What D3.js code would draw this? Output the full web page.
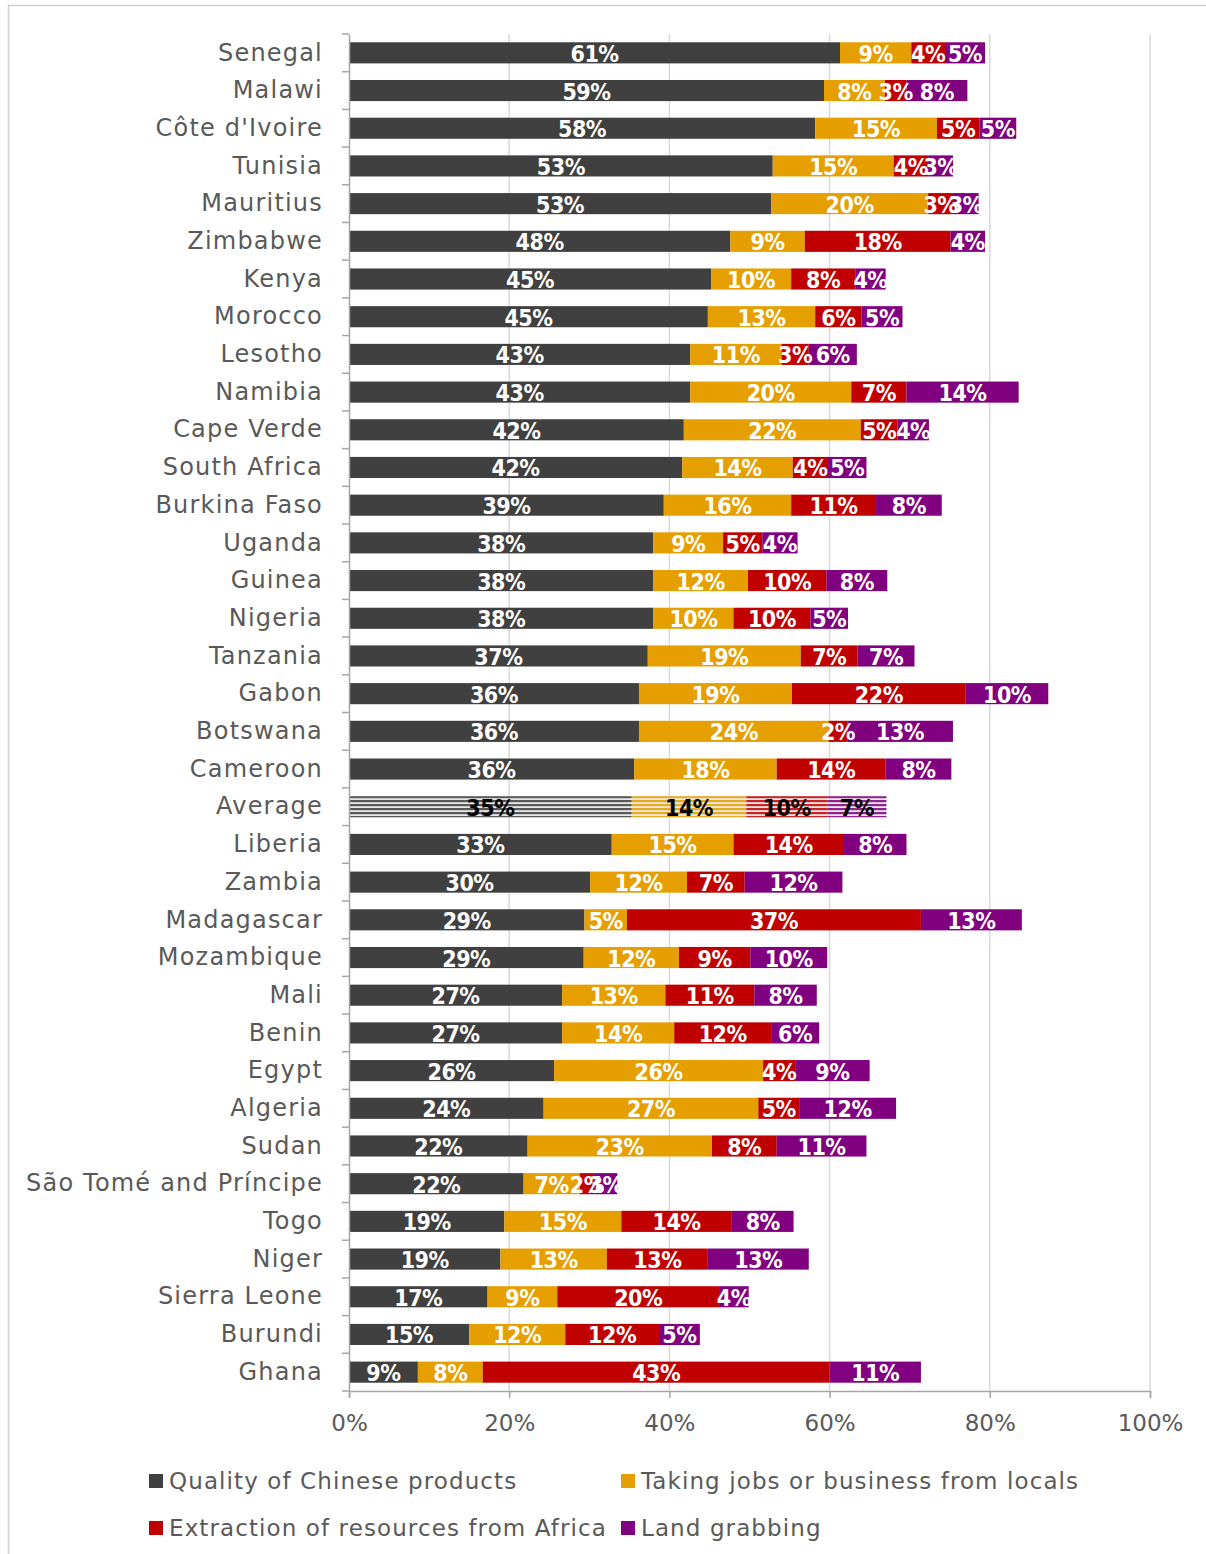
<!DOCTYPE html>
<html><head><meta charset="utf-8">
<script src="https://cdn.jsdelivr.net/npm/d3@7"></script>
<style>body{margin:0;background:#fff}svg{display:block}</style>
</head><body>
<script>
const countries = ["Senegal","Malawi","Côte d'Ivoire","Tunisia","Mauritius","Zimbabwe","Kenya","Morocco","Lesotho","Namibia","Cape Verde","South Africa","Burkina Faso","Uganda","Guinea","Nigeria","Tanzania","Gabon","Botswana","Cameroon","Average","Liberia","Zambia","Madagascar","Mozambique","Mali","Benin","Egypt","Algeria","Sudan","São Tomé and Príncipe","Togo","Niger","Sierra Leone","Burundi","Ghana"];
const quality    = [61.3,59.3,58.2,52.9,52.7,47.6,45.2,44.8,42.6,42.6,41.8,41.6,39.3,38.0,38.0,38.0,37.3,36.2,36.2,35.6,35.3,32.8,30.1,29.4,29.3,26.6,26.6,25.6,24.3,22.3,21.8,19.4,18.9,17.3,15.0,8.6];
const jobs       = [8.9,7.6,15.2,15.1,19.6,9.3,10.0,13.4,11.4,20.1,22.1,13.8,15.9,8.7,11.8,10.0,19.1,19.1,23.7,17.8,14.3,15.2,12.1,5.3,11.9,12.9,14.0,26.1,26.8,23.0,7.0,14.6,13.3,8.7,12.0,8.1];
const extraction = [4.2,2.7,5.3,4.3,3.1,18.2,8.0,5.8,3.4,6.9,4.6,4.4,10.6,4.9,9.8,9.6,7.1,21.7,2.3,13.6,10.1,13.8,7.2,36.7,8.9,11.1,12.1,4.0,5.1,8.1,1.8,13.8,12.6,20.2,11.7,43.3];
const land       = [5.0,7.6,4.6,3.1,3.2,4.3,3.8,5.1,6.0,14.0,3.9,4.8,8.2,4.4,7.6,4.7,7.1,10.3,13.2,8.2,7.4,7.8,12.2,12.6,9.6,7.8,6.0,9.3,12.1,11.2,2.9,7.7,12.6,3.7,5.1,11.4];
const seriesNames = ["Quality of Chinese products","Taking jobs or business from locals","Extraction of resources from Africa","Land grabbing"];
const seriesColors = ["#404040","#E69F00","#C00000","#800080"];
const xTicks = [0,20,40,60,80,100];

const W=1206,H=1554;
const svg=d3.select("body").append("svg").attr("width",W).attr("height",H);
const defs=svg.append("defs");
seriesColors.forEach((c,i)=>{
  const p=defs.append("pattern").attr("id","pat"+i).attr("patternUnits","userSpaceOnUse")
    .attr("width",8).attr("height",4);
  p.append("rect").attr("width",8).attr("height",4).attr("fill","#e8e8e8");
  p.append("rect").attr("width",8).attr("height",2.2).attr("fill",c).attr("opacity",0.85);
});

svg.append("rect").attr("x",8.5).attr("y",5.5).attr("width",W).attr("height",H)
  .attr("fill","none").attr("stroke","#d0d0d0").attr("stroke-width",1.5);

const x=d3.scaleLinear().domain([0,100]).range([349,1150]);
const y=d3.scaleBand().domain(countries).range([34,1391]).paddingInner(0.44).paddingOuter(0.22);

const g=svg.append("g");
g.selectAll("line.grid").data(xTicks.slice(1)).join("line")
  .attr("x1",d=>x(d)).attr("x2",d=>x(d)).attr("y1",34).attr("y2",1391)
  .attr("stroke","#d9d9d9").attr("stroke-width",1.5);

const data=countries.map((c,i)=>({c,vals:[quality[i],jobs[i],extraction[i],land[i]]}));
const stack=[];
data.forEach(d=>{let acc=0;d.vals.forEach((v,k)=>{stack.push({c:d.c,k,v,x0:acc,x1:acc+v});acc+=v;});});

g.selectAll("rect.seg").data(stack).join("rect")
  .attr("x",d=>x(d.x0)).attr("width",d=>x(d.x1)-x(d.x0))
  .attr("y",d=>y(d.c)).attr("height",y.bandwidth())
  .attr("fill",d=>d.c==="Average"?`url(#pat${d.k})`:seriesColors[d.k]);

g.selectAll("text.lab").data(stack).join("text")
  .attr("x",d=>(x(d.x0)+x(d.x1))/2).attr("y",d=>y(d.c)+y.bandwidth()/2+9)
  .attr("text-anchor","middle")
  .attr("font-family","'DejaVu Sans Condensed','DejaVu Sans',sans-serif")
  .attr("font-weight","bold").attr("font-size",23).attr("letter-spacing",-0.5)
  .attr("fill",d=>d.c==="Average"?"#000":"#fff")
  .text(d=>Math.round(d.v)+"%");

const yAxis=d3.axisLeft(y).tickSize(0).tickPadding(26);
const ya=svg.append("g").attr("transform","translate(349,0)").call(yAxis);
ya.select(".domain").attr("stroke","#a6a6a6").attr("stroke-width",1.5);
ya.selectAll("text").attr("font-family","'DejaVu Sans',sans-serif").attr("font-size",24)
  .attr("letter-spacing",1.2).attr("fill","#595959");
const bounds=countries.map(c=>y(c)-y.step()*y.paddingInner()/2).concat([1391]);
svg.selectAll("line.ct").data(bounds).join("line")
  .attr("x1",342).attr("x2",349).attr("y1",d=>d).attr("y2",d=>d)
  .attr("stroke","#a6a6a6").attr("stroke-width",1.5);

const xAxis=d3.axisBottom(x).tickValues(xTicks).tickFormat(d=>d+"%").tickSize(7).tickPadding(17);
const xa=svg.append("g").attr("transform","translate(0,1391)").call(xAxis);
xa.select(".domain").attr("stroke","#a6a6a6").attr("stroke-width",1.5);
xa.selectAll(".tick line").attr("stroke","#a6a6a6").attr("stroke-width",1.5);
xa.selectAll("text").attr("font-family","'DejaVu Sans',sans-serif").attr("font-size",23).attr("fill","#595959");

const legPos=[[149,1481],[621,1481],[149,1528],[621,1528]];
const leg=svg.selectAll("g.leg").data(seriesNames).join("g")
  .attr("transform",(d,i)=>`translate(${legPos[i][0]},${legPos[i][1]})`);
leg.append("rect").attr("x",0).attr("y",-7).attr("width",14).attr("height",14).attr("fill",(d,i)=>seriesColors[i]);
leg.append("text").attr("x",20).attr("y",8).text(d=>d)
  .attr("font-family","'DejaVu Sans',sans-serif").attr("font-size",23).attr("letter-spacing",1.1).attr("fill","#595959");
</script>
</body></html>
